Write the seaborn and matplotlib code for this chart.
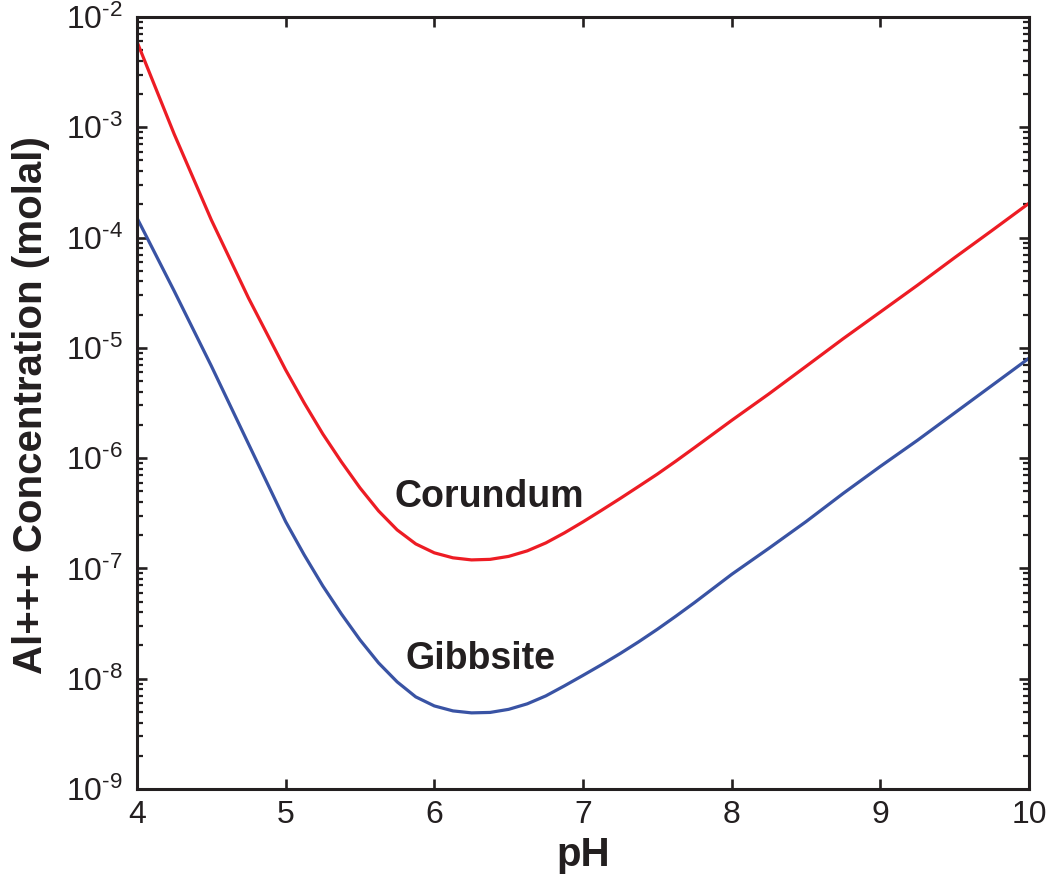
import numpy as np
import pandas as pd
import matplotlib
matplotlib.use("Agg")
import matplotlib.pyplot as plt
import matplotlib.ticker as mticker
import seaborn as sns

# ---- data (log10 of Al+++ molality) ----
ph = [4.0, 4.25, 4.5, 4.75,
      5.0, 5.125, 5.25, 5.375, 5.5, 5.625, 5.75, 5.875, 6.0, 6.125, 6.25,
      6.375, 6.5, 6.625, 6.75, 6.875, 7.0, 7.125, 7.25, 7.375, 7.5, 7.625, 7.75,
      8.0, 8.25, 8.5, 8.75, 9.0, 9.25, 9.5, 9.75, 10.0]
corundum_log10 = [-2.224, -3.061, -3.840, -4.548,
                  -5.200, -5.500, -5.781, -6.034, -6.270, -6.479, -6.651, -6.778,
                  -6.859, -6.904, -6.923, -6.918, -6.891, -6.841, -6.769, -6.678,
                  -6.578, -6.473, -6.366, -6.256, -6.145, -6.027, -5.905,
                  -5.658, -5.418, -5.168, -4.917, -4.675, -4.432, -4.182, -3.937,
                  -3.689]
gibbsite_log10 = [-3.822, -4.484, -5.164, -5.871,
                  -6.576, -6.878, -7.159, -7.413, -7.648, -7.857, -8.029, -8.165,
                  -8.247, -8.292, -8.310, -8.306, -8.278, -8.228, -8.156, -8.065,
                  -7.970, -7.873, -7.772, -7.665, -7.552, -7.433, -7.310,
                  -7.054, -6.818, -6.576, -6.320, -6.075, -5.838, -5.590, -5.342,
                  -5.094]
series_names = ["Corundum", "Gibbsite"]
series_colors = ["#ED1C24", "#3953A4"]
label_pos = [(6.367, 10 ** -6.44), (6.309, 10 ** -7.911)]
x_ticks = [4, 5, 6, 7, 8, 9, 10]
y_range_exp = (-9, -2)

sns.set_theme(style="ticks")
plt.rcParams["font.family"] = ["Liberation Sans", "DejaVu Sans"]
plt.rcParams["mathtext.fontset"] = "custom"
plt.rcParams["mathtext.rm"] = "Liberation Sans"
plt.rcParams["mathtext.it"] = "Liberation Sans"
plt.rcParams["mathtext.bf"] = "Liberation Sans:bold"

df = pd.DataFrame({
    "pH": ph * 2,
    "conc": list(10 ** np.array(corundum_log10)) + list(10 ** np.array(gibbsite_log10)),
    "mineral": [series_names[0]] * len(ph) + [series_names[1]] * len(ph),
})

INK = "#231F20"
fig = plt.figure(figsize=(10.48, 8.84), dpi=100)
ax = fig.add_axes([0.1307, 0.1075, 0.8512, 0.8733])

sns.lineplot(data=df, x="pH", y="conc", hue="mineral",
             palette=dict(zip(series_names, series_colors)),
             linewidth=2.3, legend=False, ax=ax, sort=False)
for ln in ax.get_lines():
    ln.set_solid_joinstyle("round")
    ln.set_solid_capstyle("round")

ax.set_yscale("log")
ax.set_xlim(4, 10)
ax.set_ylim(10.0 ** y_range_exp[0], 10.0 ** y_range_exp[1])
ax.set_xticks(x_ticks)
ax.xaxis.set_minor_locator(mticker.NullLocator())
ax.yaxis.set_major_locator(mticker.LogLocator(base=10, numticks=20))
ax.yaxis.set_minor_locator(mticker.LogLocator(base=10, subs=np.arange(2, 10), numticks=20))
ax.yaxis.set_minor_formatter(mticker.NullFormatter())


def sci_fmt(v, _pos):
    e = int(round(np.log10(v)))
    sign = "-" if e < 0 else ""
    return "10$^{\\text{%s%d}}$" % (sign, abs(e))


ax.yaxis.set_major_formatter(mticker.FuncFormatter(sci_fmt))
ax.xaxis.get_offset_text().set_visible(False)
ax.yaxis.get_offset_text().set_visible(False)

for s in ax.spines.values():
    s.set_linewidth(2.2)
    s.set_color(INK)
    s.set_visible(True)

ax.tick_params(axis="both", which="major", direction="in", length=7.2, width=1.9,
               top=True, right=True, labelsize=23, colors=INK)
ax.tick_params(axis="x", which="major", pad=8)
ax.tick_params(axis="y", which="major", pad=10)
ax.tick_params(axis="y", which="minor", direction="in", length=4.6, width=1.6,
               left=True, right=True, colors=INK)

ax.set_xlabel("pH", fontsize=29, fontweight="bold", color=INK)
ax.set_ylabel("Al+++ Concentration (molal)", fontsize=29, fontweight="bold", color=INK)
ax.xaxis.set_label_coords(0.5, -0.061)
ax.yaxis.set_label_coords(-0.0975, 0.497)

for name, (lx, ly) in zip(series_names, label_pos):
    ax.text(lx, ly, name, fontsize=27, fontweight="bold", color=INK,
            ha="center", va="baseline")

fig.savefig("out.png", dpi=100)
